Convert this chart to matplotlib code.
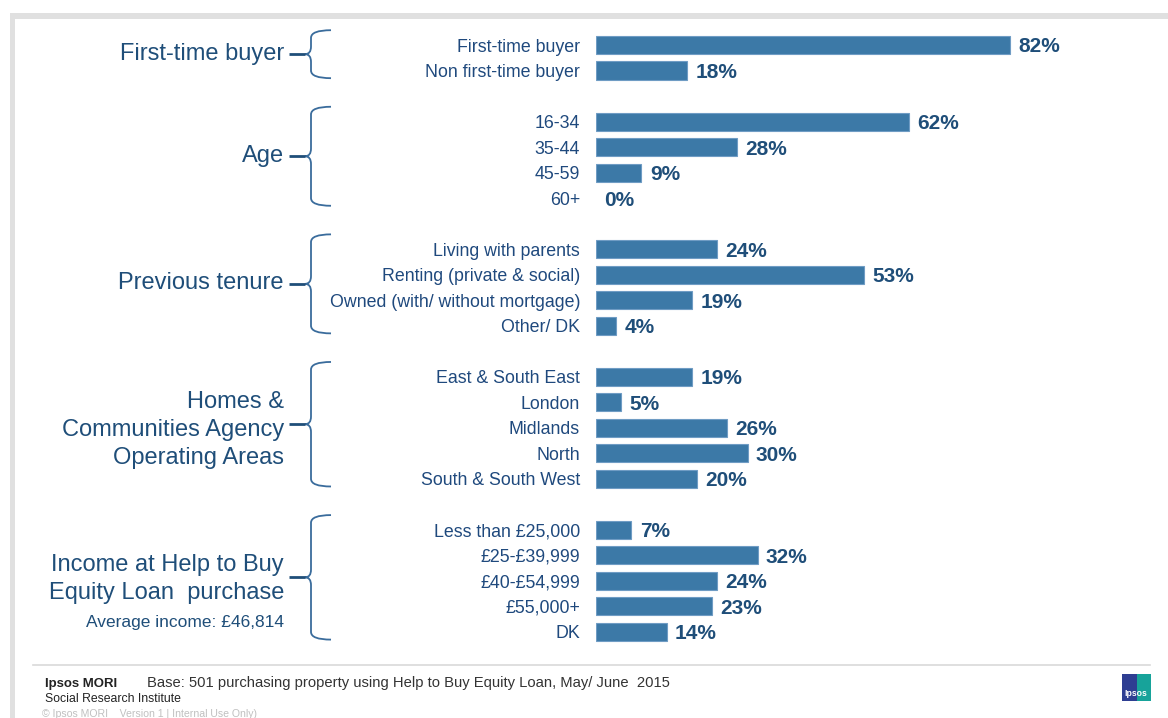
import matplotlib
matplotlib.use("Agg")
import matplotlib.pyplot as plt
from matplotlib.path import Path
from matplotlib.patches import PathPatch, Rectangle
import matplotlib.transforms as mtransforms
from matplotlib import font_manager

plt.rcParams['font.family'] = ['Liberation Sans', 'DejaVu Sans']

# ---------------- data ----------------
group_names = ["First-time buyer", "Age", "Previous tenure",
               "Homes &\nCommunities Agency\nOperating Areas",
               "Income at Help to Buy\nEquity Loan  purchase"]
ftb_labels = ["First-time buyer", "Non first-time buyer"]
ftb_values = [82, 18]
age_labels = ["16-34", "35-44", "45-59", "60+"]
age_values = [62, 28, 9, 0]
tenure_labels = ["Living with parents", "Renting (private & social)",
                 "Owned (with/ without mortgage)", "Other/ DK"]
tenure_values = [24, 53, 19, 4]
area_labels = ["East & South East", "London", "Midlands", "North", "South & South West"]
area_values = [19, 5, 26, 30, 20]
income_labels = ["Less than £25,000", "£25-£39,999", "£40-£54,999", "£55,000+", "DK"]
income_values = [7, 32, 24, 23, 14]
avg_income_note = "Average income: £46,814"
base_note = "Base: 501 purchasing property using Help to Buy Equity Loan, May/ June  2015"

groups = [(ftb_labels, ftb_values), (age_labels, age_values),
          (tenure_labels, tenure_values), (area_labels, area_values),
          (income_labels, income_values)]

# ---------------- layout ----------------
W, H = 1168, 718
fig = plt.figure(figsize=(W / 100, H / 100), dpi=100)

BAR = "#3C79A7"
EDGE = "#6F9CC4"
NAVY = "#1F4E79"
LABEL = "#1F497D"
BRACE = "#3A6C9C"

# overlay axes in pixel coordinates for decorations
ov = fig.add_axes([0, 0, 1, 1])
ov.set_xlim(0, W)
ov.set_ylim(H, 0)
ov.axis("off")

# grey frame
ov.add_patch(Rectangle((10, 13), W - 10, 6, color="#E0E0E0", lw=0))
ov.add_patch(Rectangle((10, 13), 5, H - 13, color="#E0E0E0", lw=0))

# bar axes
n_rows = sum(len(g[0]) for g in groups) + len(groups) - 1
row_h = 25.52
top_px = 45 - row_h / 2
bot_px = top_px + n_rows * row_h
ax = fig.add_axes([596 / W, 1 - bot_px / H, 505 / W, (bot_px - top_px) / H])
ax.set_xlim(0, 100)
ax.set_ylim(n_rows - 0.5, -0.5)
ax.axis("off")
ax.patch.set_alpha(0)

rows, labels, values = [], [], []
group_spans = []
r = 0
for labs, vals in groups:
    start = r
    for l, v in zip(labs, vals):
        rows.append(r)
        labels.append(l)
        values.append(v)
        r += 1
    group_spans.append((start, r - 1))
    r += 1

ax.barh(rows, values, height=0.71, color=BAR, edgecolor=EDGE,
        linewidth=[0.8 if v > 0 else 0 for v in values])
for y, v, l in zip(rows, values, labels):
    ax.annotate(f"{v}%", (v, y), xytext=(6.0, 0), textcoords="offset points",
                va="center_baseline", ha="left", fontsize=15, fontweight="bold", color=NAVY)
    ax.annotate(l, (0, y), xytext=(-11.5, 0), textcoords="offset points",
                va="center_baseline", ha="right", fontsize=12.8, color=LABEL,
                annotation_clip=False)

# braces: x in pixels, y in bar rows
tr = mtransforms.blended_transform_factory(ov.transData, ax.transData)
x_end, x_v, x_c, x_tick = 331, 311, 305, 289
rr = 0.3
for gi, (s, e) in enumerate(group_spans):
    yt = s - 0.58
    yb = e + 0.3
    ym = (yt + yb) / 2
    verts = [(x_end, yt), (x_v, yt), (x_v, yt + rr),
             (x_v, ym - rr), (x_v, ym), (x_c, ym),
             (x_v, ym), (x_v, ym + rr),
             (x_v, yb - rr), (x_v, yb), (x_end, yb)]
    codes = [Path.MOVETO, Path.CURVE3, Path.CURVE3,
             Path.LINETO, Path.CURVE3, Path.CURVE3,
             Path.CURVE3, Path.CURVE3,
             Path.LINETO, Path.CURVE3, Path.CURVE3]
    ov.add_patch(PathPatch(Path(verts, codes), transform=tr, facecolor="none",
                           edgecolor=BRACE, lw=1.3, clip_on=False))
    ov.plot([x_tick, x_c], [ym, ym], transform=tr, color=NAVY, lw=2.0,
            solid_capstyle="butt", clip_on=False)
    name = group_names[gi]
    n_lines = name.count("\n") + 1
    dy = 0.22 if n_lines == 3 else (0.05 if n_lines == 2 else -0.02)
    ov.text(284, ym + dy, name, transform=tr, ha="right", va="center",
            fontsize=17, color=NAVY, linespacing=1.34)
    if gi == len(group_spans) - 1:
        ov.text(284, ym + 1.72, avg_income_note, transform=tr, ha="right",
                va="center_baseline", fontsize=12.5, color=NAVY)

# footer
ov.plot([33, 1150], [665, 665], color="#D9D9D9", lw=1.2)
ov.text(45, 682, "Ipsos MORI", fontsize=9.5, fontweight="bold", color="#222222",
        ha="left", va="center_baseline")
ov.text(147, 682, base_note, fontsize=10.6, color="#333333", ha="left",
        va="center_baseline")
names = [f.name for f in font_manager.fontManager.ttflist]
narrow = "Liberation Sans Narrow" if "Liberation Sans Narrow" in names else "Liberation Sans"
ov.text(45, 698, "Social Research Institute", fontsize=9.5 if narrow != "Liberation Sans" else 8.8,
        family=[narrow, "DejaVu Sans"], color="#222222", ha="left", va="center_baseline")
ov.text(42, 713, "© Ipsos MORI    Version 1 | Internal Use Only)", fontsize=7.6,
        color="#C0C0C0", ha="left", va="center_baseline")

# logo
ov.add_patch(Rectangle((1122, 674), 15, 27, color="#2E3E92", lw=0))
ov.add_patch(Rectangle((1137, 674), 14, 27, color="#17A39A", lw=0))
ov.text(1136, 694, "Ipsos", fontsize=6.2, fontweight="bold", color="white",
        ha="center", va="center")

fig.savefig("out.png", dpi=100)
